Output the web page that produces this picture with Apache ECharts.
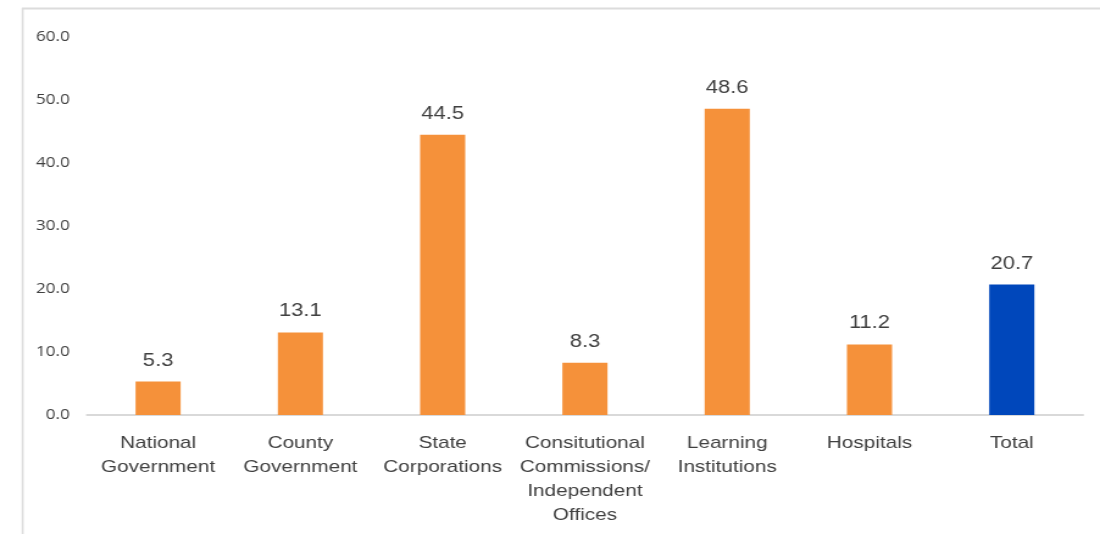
<!DOCTYPE html>
<html>
<head>
<meta charset="utf-8">
<script src="https://cdn.jsdelivr.net/npm/echarts@6/dist/echarts.min.js"></script>
<style>
  html, body { margin: 0; padding: 0; background: #ffffff; overflow: hidden; }
  /* the chart is laid out narrower and widened horizontally to its 1100px frame */
  #chart { width: 902px; height: 534px; transform: scaleX(1.2195); transform-origin: 0 0; }
</style>
</head>
<body>
<div id="chart"></div>
<script>
const categories = [
  'National\nGovernment',
  'County\nGovernment',
  'State\nCorporations',
  'Consitutional\nCommissions/\nIndependent\nOffices',
  'Learning\nInstitutions',
  'Hospitals',
  'Total'
];
const values = [5.3, 13.1, 44.5, 8.3, 48.6, 11.2, 20.7];
const barColors = ['#F5913A', '#F5913A', '#F5913A', '#F5913A', '#F5913A', '#F5913A', '#0047BB'];

const chart = echarts.init(document.getElementById('chart'));
chart.setOption({
  animation: false,
  grid: { left: 71.3, right: 14, top: 37, bottom: 119, containLabel: false },
  graphic: [
    { type: 'line', shape: { x1: 18, y1: 8.5, x2: 902, y2: 8.5 }, style: { stroke: '#dcdcdc', lineWidth: 2 } },
    { type: 'line', shape: { x1: 18.6, y1: 8, x2: 18.6, y2: 534 }, style: { stroke: '#dcdcdc', lineWidth: 1.6 } }
  ],
  xAxis: {
    type: 'category',
    data: categories,
    axisLine: { lineStyle: { color: '#d9d9d9', width: 2 } },
    axisTick: { show: false },
    axisLabel: {
      interval: 0,
      margin: 16,
      color: '#404040',
      fontFamily: 'Liberation Sans, Arial, sans-serif',
      fontSize: 17,
      lineHeight: 24
    }
  },
  yAxis: {
    type: 'value',
    min: 0,
    max: 60,
    interval: 10,
    axisLine: { show: false },
    axisTick: { show: false },
    splitLine: { show: false },
    axisLabel: {
      margin: 14,
      color: '#404040',
      fontFamily: 'Open Sans, sans-serif',
      fontSize: 14,
      formatter: v => v.toFixed(1)
    }
  },
  series: [{
    type: 'bar',
    barWidth: 37,
    data: values.map((v, i) => ({ value: v, itemStyle: { color: barColors[i] } })),
    label: {
      show: true,
      position: 'top',
      distance: 12,
      color: '#404040',
      fontFamily: 'Liberation Sans, Arial, sans-serif',
      fontSize: 18,
      formatter: p => p.value.toFixed(1)
    }
  }]
});
</script>
</body>
</html>
